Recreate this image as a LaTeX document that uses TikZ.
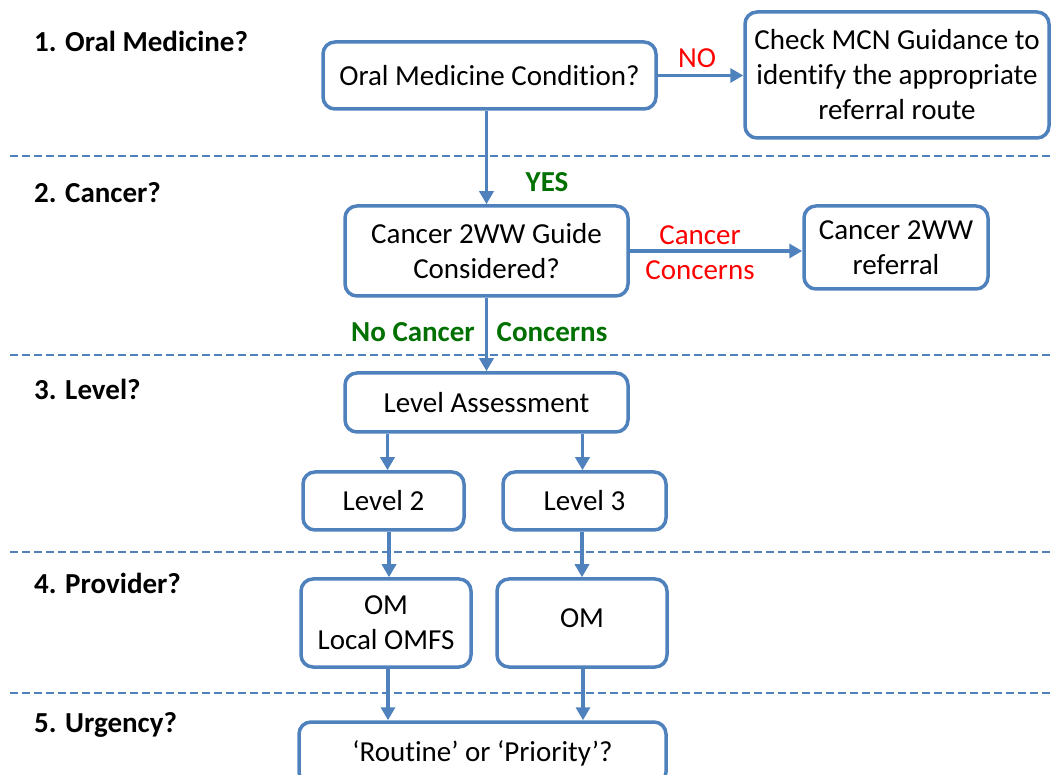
\documentclass[tikz,border=0pt]{standalone}
\usepackage{fontspec}
\setmainfont[Ligatures={NoCommon}]{Carlito}
\usepackage{xcolor}
\usepackage{tikz}
\usetikzlibrary{arrows.meta}
\definecolor{lineblue}{HTML}{4F81BD}
\definecolor{yesgreen}{HTML}{007000}

\begin{document}
\begin{tikzpicture}[y=-0.5pt, x=0.5pt,
	box/.style={draw=lineblue, line width=1.75pt, rounded corners=6pt, align=center, inner sep=2pt},
	flow/.style={draw=lineblue, line width=1.75pt, -{Triangle[length=6.5pt,width=7pt]}},
	lane/.style={draw=lineblue, line width=1.2pt, dash pattern=on 4pt off 2pt},
	stage/.style={anchor=west, font=\fontsize{14.5}{17.5}\selectfont\bfseries},
	every node/.style={font=\fontsize{14.5}{17.5}\selectfont}]
	\useasboundingbox (0,0) rectangle (1051,775);
	\clip (0,0) rectangle (1051,775);
	\draw[lane] (10,156) -- (1051,156);
	\draw[lane] (10,355) -- (1051,355);
	\draw[lane] (10,552) -- (1051,552);
	\draw[lane] (10,693) -- (1051,693);
	\node [stage] (stOne) at (27,41) {1. Oral Medicine?};
	\node [stage] (stTwo) at (27,193) {2. Cancer?};
	\node [stage] (stThree) at (27,389) {3. Level?};
	\node [stage] (stFour) at (27,583) {4. Provider?};
	\node [stage] (stFive) at (27,725) {5. Urgency?};
	\node [box, minimum width=166.5pt, minimum height=33.5pt] (omq) at (489.5,75.5) {Oral Medicine Condition?};
	\node [box, minimum width=152pt, minimum height=63pt] (mcn) at (897,75) {Check MCN Guidance to\\identify the appropriate\\referral route};
	\node [box, minimum width=141.5pt, minimum height=45pt] (guide) at (486.5,251) {Cancer 2WW Guide\\Considered?};
	\node [box, minimum width=92pt, minimum height=41.5pt] (ref) at (896,247.5) {Cancer 2WW\\referral};
	\node [box, minimum width=141.5pt, minimum height=29.5pt] (assess) at (486.5,402.5) {Level Assessment};
	\node [box, minimum width=80.5pt, minimum height=29pt] (lvlTwo) at (383.5,501) {Level 2};
	\node [box, minimum width=81.5pt, minimum height=29pt] (lvlThree) at (584.5,501) {Level 3};
	\node [box, minimum width=85pt, minimum height=44pt] (provTwo) at (386,623) {OM\\Local OMFS};
	\node [box, minimum width=85pt, minimum height=44pt] (provThree) at (582,623) {\raisebox{5pt}{OM}};
	\node [box, minimum width=183.5pt, minimum height=31pt] (urg) at (482.5,753) {`Routine' or `Priority'?};
	\draw[flow] (omq.east) -- (omq.east -| mcn.west);
	\draw[flow] (omq.south -| guide.north) -- (guide.north);
	\draw[flow] (guide.east) -- (guide.east -| ref.west);
	\draw[flow] (guide.south) -- (assess.north);
	\draw[flow] ([xshift=2pt]lvlTwo.north |- assess.south) -- ([xshift=2pt]lvlTwo.north);
	\draw[flow] ([xshift=-1pt]lvlThree.north |- assess.south) -- ([xshift=-1pt]lvlThree.north);
	\draw[flow] ([xshift=1.5pt]provTwo.north |- lvlTwo.south) -- ([xshift=1.5pt]provTwo.north);
	\draw[flow] (provThree.north |- lvlThree.south) -- (provThree.north);
	\draw[flow] ([xshift=1pt]provTwo.south) -- ([xshift=1pt]provTwo.south |- urg.north);
	\draw[flow] ([xshift=0.5pt]provThree.south) -- ([xshift=0.5pt]provThree.south |- urg.north);
	\node [text=red] (no) at (697,58) {NO};
	\node [text=yesgreen, font=\fontsize{14.5}{17.5}\selectfont\bfseries] (yes) at (547,182) {YES};
	\node [text=red, align=center] (concern) at (700,253) {Cancer\\Concerns};
	\node [text=yesgreen, font=\fontsize{14.5}{17.5}\selectfont\bfseries] (noCancer) at (413,332) {No Cancer};
	\node [text=yesgreen, font=\fontsize{14.5}{17.5}\selectfont\bfseries] (noConcern) at (552,332) {Concerns};
\end{tikzpicture}
\end{document}
